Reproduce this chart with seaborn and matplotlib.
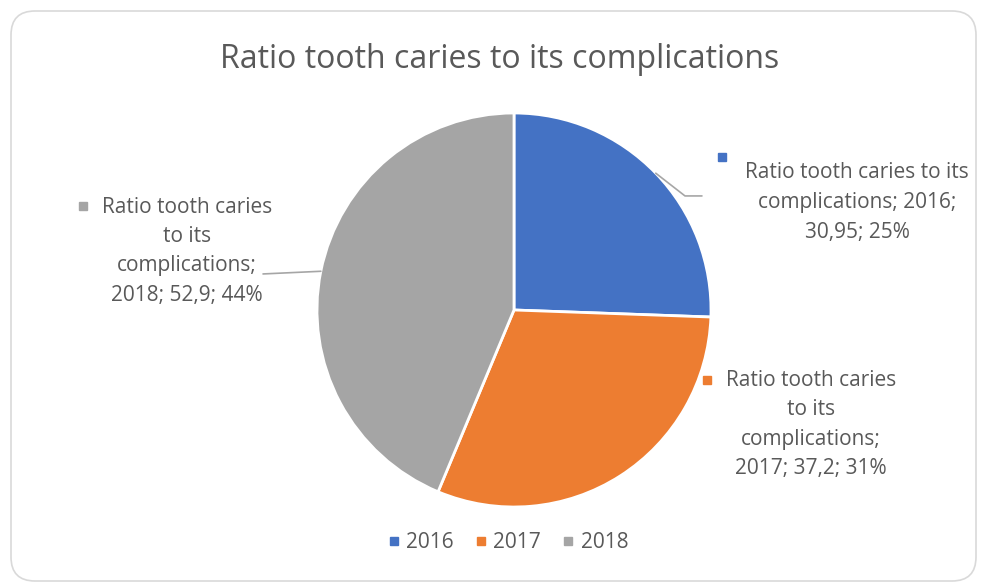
import matplotlib
matplotlib.use("Agg")
import matplotlib.pyplot as plt
import seaborn as sns
import numpy as np
from matplotlib.patches import FancyBboxPatch
from matplotlib.lines import Line2D
from matplotlib.transforms import IdentityTransform

# Data
years = ["2016", "2017", "2018"]
values = [30.95, 37.2, 52.9]
percent_labels = [25, 31, 44]
series_name = "Ratio tooth caries to its complications"
colors = ["#4472C4", "#ED7D31", "#A5A5A5"]

sns.set_theme(style="white")
plt.rcParams["font.family"] = ["Open Sans", "DejaVu Sans"]
TEXT = "#595959"

W, H = 981, 583
fig = plt.figure(figsize=(W / 100, H / 100), dpi=100)
fig.patch.set_facecolor("white")


def fx(x):
    return x / W


def fy(y):
    return 1 - y / H


# Rounded chart-area frame (display pixels, origin bottom-left)
frame = FancyBboxPatch((11, H - 581), 965, 570,
                       boxstyle="round,pad=0,rounding_size=24",
                       transform=IdentityTransform(),
                       facecolor="white", edgecolor="#D9D9D9", linewidth=1.2,
                       zorder=-5)
fig.patches.append(frame)

fig.text(fx(500), fy(60), series_name, ha="center", va="center",
         fontsize=23, color=TEXT)

# Pie
R = 197
ax = fig.add_axes([fx(514 - R), fy(310 + R), 2 * R / W, 2 * R / H])
ax.set_zorder(2)
wedges, _ = ax.pie(values, colors=colors, startangle=90, counterclock=False,
                   wedgeprops=dict(edgecolor="white", linewidth=2))
ax.set_xlim(-1, 1)
ax.set_ylim(-1, 1)
ax.set_aspect("equal")
ax.axis("off")


def value_text(i):
    return str(values[i]).replace(".", ","), f"{percent_labels[i]}%"


# Label layouts: (center x, first line y, marker x, marker y, wrapped lines)
layouts = []
v, p = value_text(0)
layouts.append((857, 173, 722, 157,
                ["Ratio tooth caries to its", f"complications; {years[0]};", f"{v}; {p}"]))
v, p = value_text(1)
layouts.append((811, 380, 707, 380,
                ["Ratio tooth caries", "to its", "complications;", f"{years[1]}; {v}; {p}"]))
v, p = value_text(2)
layouts.append((187, 207, 83, 206,
                ["Ratio tooth caries", "to its", "complications;", f"{years[2]}; {v}; {p}"]))

PITCH = 29.5
for i, (cx, y0, mx, my, lines) in enumerate(layouts):
    for k, line in enumerate(lines):
        fig.text(fx(cx), fy(y0 + k * PITCH), line, ha="center", va="center",
                 fontsize=15, color=TEXT)
    fig.add_artist(Line2D([fx(mx)], [fy(my)], marker="s", markersize=6,
                          color=colors[i], linestyle="none",
                          transform=fig.transFigure))


def mid_point(w, r=1.0):
    a = np.deg2rad((w.theta1 + w.theta2) / 2)
    return r * np.cos(a), r * np.sin(a)


# Leader lines
lc = "#A6A6A6"
x0, y0 = mid_point(wedges[0])
ax.plot([x0, 0.868, 0.954], [y0, 0.579, 0.579], color=lc, lw=1.2, clip_on=False)
x2, y2 = mid_point(wedges[2])
ax.plot([x2, -1.274], [y2, 0.183], color=lc, lw=1.2, clip_on=False)

# Legend
handles = [Line2D([], [], marker="s", markersize=6, color=c, linestyle="none")
           for c in colors]
leg = fig.legend(handles, years, ncol=3, loc="center",
                 bbox_to_anchor=(fx(508), fy(543)), frameon=False,
                 fontsize=15, handlelength=0.6, handletextpad=0.3,
                 columnspacing=1.0)
for t in leg.get_texts():
    t.set_color(TEXT)

fig.savefig("out.png", dpi=100, facecolor="white")
